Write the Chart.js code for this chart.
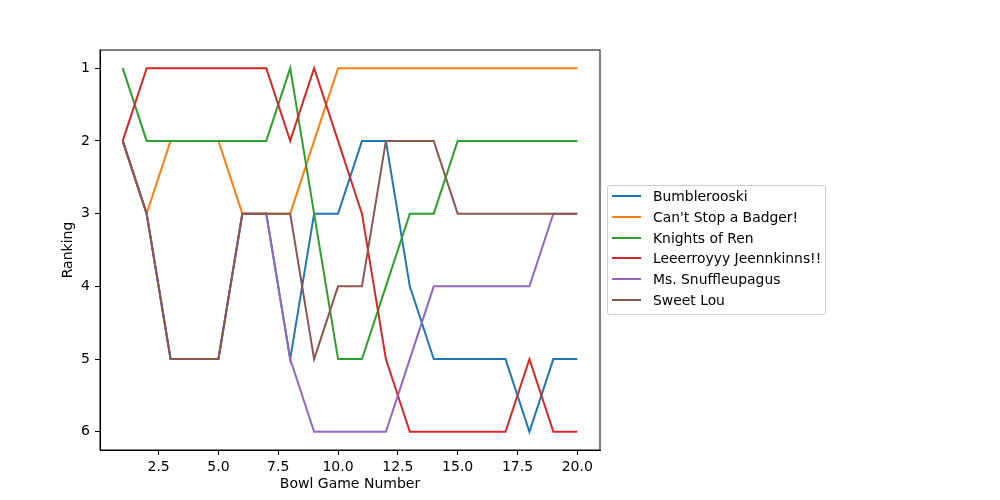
<!DOCTYPE html>
<html>
<head>
<meta charset="utf-8">
<script src="https://cdn.jsdelivr.net/npm/chart.js@4"></script>
<style>
    body { margin: 0; background: #fff; }
    #wrap { position: relative; width: 1000px; height: 500px; }
    #legend {
        position: absolute; left: 607px; top: 185px; width: 217px; height: 128px;
        border: 1px solid #cccccc; border-radius: 3px; background: rgba(255,255,255,0.8);
        font-family: "DejaVu Sans", sans-serif; font-size: 13.9px; color: #000;
    }
    .row { position: absolute; left: 0; height: 20px; line-height: 20px; white-space: nowrap; }
    .swatch { position: absolute; left: 4px; top: 9px; width: 29px; height: 2px; }
    .label { position: absolute; left: 45px; top: 0; }
</style>
</head>
<body>
<div id="wrap">
    <canvas id="chart" width="1000" height="500"></canvas>
    <div id="legend"></div>
</div>
<script>
// ================================
// Bowl game rankings
// ================================

const games = [1, 2, 3, 4, 5, 6, 7, 8, 9, 10, 11, 12, 13, 14, 15, 16, 17, 18, 19, 20];
const teams = ['Bumblerooski', "Can't Stop a Badger!", 'Knights of Ren',
    'Leeerroyyy Jeennkinns!!', 'Ms. Snuffleupagus', 'Sweet Lou'];

const bumblerooski = [2, 3, 5, 5, 5, 3, 3, 5, 3, 3, 2, 2, 4, 5, 5, 5, 5, 6, 5, 5];
const badger       = [2, 3, 2, 2, 2, 3, 3, 3, 2, 1, 1, 1, 1, 1, 1, 1, 1, 1, 1, 1];
const knights      = [1, 2, 2, 2, 2, 2, 2, 1, 3, 5, 5, 4, 3, 3, 2, 2, 2, 2, 2, 2];
const leeroy       = [2, 1, 1, 1, 1, 1, 1, 2, 1, 2, 3, 5, 6, 6, 6, 6, 6, 5, 6, 6];
const snuffle      = [2, 3, 5, 5, 5, 3, 3, 5, 6, 6, 6, 6, 5, 4, 4, 4, 4, 4, 3, 3];
const sweetLou     = [2, 3, 5, 5, 5, 3, 3, 3, 5, 4, 4, 2, 2, 2, 3, 3, 3, 3, 3, 3];

const xTicks = [2.5, 5.0, 7.5, 10.0, 12.5, 15.0, 17.5, 20.0];
const yTicks = [1, 2, 3, 4, 5, 6];

const colors = ['#1f77b4', '#ff7f0e', '#2ca02c', '#d62728', '#9467bd', '#8c564b'];
const series = [bumblerooski, badger, knights, leeroy, snuffle, sweetLou];

const FONT = { family: '"DejaVu Sans", sans-serif', size: 14 };

// Frame round the plot area, like the matplotlib spines
const framePlugin = {
    id: 'frame',
    afterDatasetsDraw(chart) {
        const { ctx, chartArea: a } = chart;
        ctx.save();
        ctx.strokeStyle = '#000';
        ctx.lineWidth = 1;
        ctx.strokeRect(a.left, a.top, a.right - a.left, a.bottom - a.top);
        ctx.restore();
    }
};

const datasets = series.map((vals, i) => ({
    label: teams[i],
    data: games.map((g, j) => ({ x: g, y: vals[j] })),
    borderColor: colors[i],
    backgroundColor: colors[i],
    borderWidth: 2,
    pointRadius: 0,
    tension: 0,
    fill: false,
    order: series.length - 1 - i   // last team drawn on top
}));

const ctx = document.getElementById('chart').getContext('2d');
const chart = new Chart(ctx, {
    type: 'line',
    data: { datasets: datasets },
    options: {
        responsive: false,
        animation: false,
        layout: { padding: { left: 0, right: 400, top: 50, bottom: 0 } },
        plugins: {
            legend: { display: false },
            tooltip: { enabled: false }
        },
        scales: {
            x: {
                type: 'linear',
                min: 0.05,
                max: 20.95,
                afterBuildTicks: (scale) => { scale.ticks = xTicks.map(v => ({ value: v })); },
                afterFit: (scale) => { scale.height = 50; },
                ticks: {
                    color: '#000',
                    font: FONT,
                    padding: 4,
                    maxRotation: 0,
                    autoSkip: false,
                    callback: (v) => Number(v).toFixed(1)
                },
                grid: { drawOnChartArea: false, tickLength: 5, tickColor: '#000', color: '#000' },
                border: { display: true, color: '#000', width: 1 },
                title: {
                    display: true,
                    text: 'Bowl Game Number',
                    color: '#000',
                    font: FONT,
                    padding: { top: 0, bottom: 7 }
                }
            },
            y: {
                type: 'linear',
                reverse: true,
                min: 0.75,
                max: 6.25,
                afterBuildTicks: (scale) => { scale.ticks = yTicks.map(v => ({ value: v })); },
                afterFit: (scale) => { scale.width = 100; },
                ticks: {
                    color: '#000',
                    font: FONT,
                    padding: 5,
                    autoSkip: false,
                    callback: (v) => String(v)
                },
                grid: { drawOnChartArea: false, tickLength: 5, tickColor: '#000', color: '#000' },
                border: { display: true, color: '#000', width: 1 },
                title: {
                    display: true,
                    text: 'Ranking',
                    color: '#000',
                    font: FONT,
                    padding: { top: 60, bottom: 0 }
                }
            }
        }
    },
    plugins: [framePlugin]
});

// Legend built from the chart's own datasets
const legend = document.getElementById('legend');
chart.data.datasets.forEach((ds, i) => {
    const row = document.createElement('div');
    row.className = 'row';
    row.style.top = (i * 20.8) + 'px';
    row.innerHTML = `<span class="swatch" style="background:${ds.borderColor}"></span>` +
        `<span class="label">${ds.label}</span>`;
    legend.appendChild(row);
});
</script>
</body>
</html>
